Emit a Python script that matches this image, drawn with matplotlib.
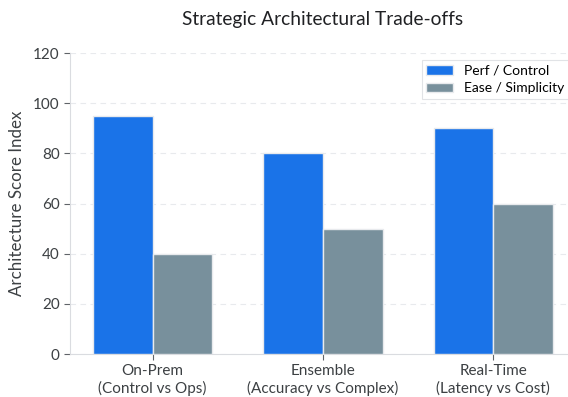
import matplotlib
matplotlib.use("Agg")
import matplotlib.pyplot as plt
import numpy as np

categories = ["On-Prem\n(Control vs Ops)", "Ensemble\n(Accuracy vs Complex)", "Real-Time\n(Latency vs Cost)"]
perf_control = [95, 80, 90]
ease_simplicity = [40, 50, 60]
series_names = ["Perf / Control", "Ease / Simplicity"]
yticks = [0, 20, 40, 60, 80, 100, 120]

plt.rcParams['font.family'] = ['Lato', 'DejaVu Sans']

fig = plt.figure(figsize=(5.68, 3.97), dpi=100)
ax = fig.add_axes([70/568, 1 - 354/397, (576-70)/568, (354-53)/397])

x = np.arange(len(categories))
w = 0.35
ax.bar(x - w/2, perf_control, w, color="#1a73e8", edgecolor="#e8eaed", linewidth=1, label=series_names[0], zorder=3)
ax.bar(x + w/2, ease_simplicity, w, color="#78909c", edgecolor="#e8eaed", linewidth=1, label=series_names[1], zorder=3)

ax.set_ylim(0, 120)
ax.set_yticks(yticks)
ax.set_xticks(x)
ax.set_xticklabels(categories, fontsize=11, color="#3c4043")
ax.tick_params(axis='y', labelsize=11, labelcolor="#3c4043", color="#5f6368", length=4)
ax.tick_params(axis='x', color="#5f6368", length=4)
ax.yaxis.grid(True, linestyle=(0, (5, 4)), color="#e8eaed", linewidth=0.8, zorder=0)
ax.set_axisbelow(True)
for s in ["top", "right"]:
    ax.spines[s].set_visible(False)
for s in ["left", "bottom"]:
    ax.spines[s].set_color("#dadce0")
ax.set_ylabel("Architecture Score Index", fontsize=12.2, color="#3c4043", labelpad=6)
fig.text(323/568, 1 - 20/397, "Strategic Architectural Trade-offs", ha="center", va="center", fontsize=13.8, color="#202124")
leg = ax.legend(loc="upper right", fontsize=10, frameon=True, edgecolor="#dadce0", fancybox=False,
                labelspacing=0.4, borderpad=0.35, handlelength=1.9)
leg.get_frame().set_linewidth(0.8)

fig.savefig("out.png", dpi=100)
